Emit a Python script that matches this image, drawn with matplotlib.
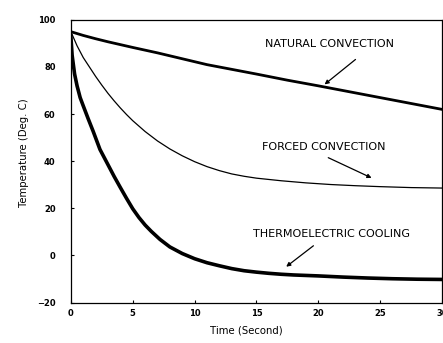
import matplotlib
matplotlib.use("Agg")
import matplotlib.pyplot as plt

# Data
t_nat = [0, 1, 2, 3, 5, 7, 9, 11, 13, 15, 17.5, 20, 22.5, 25, 27.5, 30]
T_nat = [95, 93.4, 92, 90.7, 88.3, 86, 83.5, 81, 79, 77, 74.4, 72, 69.5, 67, 64.5, 62]

t_forced = [0, 0.5, 1, 1.5, 2, 2.5, 3, 3.5, 4, 4.5, 5, 6, 7, 8, 9, 10, 11, 12, 13, 14, 15,
            17, 19, 21, 23, 25, 27.5, 30]
T_forced = [95, 89, 84, 80, 76, 72.3, 68.8, 65.6, 62.6, 59.8, 57.2, 52.6, 48.6, 45.2, 42.3,
            39.8, 37.7, 36, 34.6, 33.6, 32.8, 31.7, 30.8, 30.1, 29.6, 29.2, 28.8, 28.6]

t_te = [0, 0.1, 0.3, 0.5, 0.75, 1, 1.4, 1.8, 2.35, 2.9, 3.5, 4, 4.5, 5, 5.5, 6, 6.5, 7.2, 8,
        9, 10, 11, 12, 13, 14, 15, 16, 17, 18, 20, 22, 24, 26, 28, 30]
T_te = [93, 85, 77, 72, 67, 63.5, 58, 52.7, 45, 39.5, 33.5, 28.8, 24.2, 19.8, 16.1, 12.9, 10.2,
        6.8, 3.6, 0.8, -1.4, -3.1, -4.4, -5.6, -6.5, -7.1, -7.6, -8.0, -8.3, -8.7, -9.2,
        -9.6, -9.9, -10.1, -10.2]

x_ticks = [0, 5, 10, 15, 20, 25, 30]
y_ticks = [-20, 0, 20, 40, 60, 80, 100]

labels = ["NATURAL CONVECTION", "FORCED CONVECTION", "THERMOELECTRIC COOLING"]
text_pos = [(20.9, 89.6), (20.4, 46.0), (21.1, 8.9)]
arrow_tail = [(23.0, 83.2), (20.8, 41.5), (19.6, 4.1)]
arrow_tip = [(20.5, 72.6), (24.3, 32.9), (17.4, -4.8)]

plt.rcParams['font.family'] = ['DejaVu Sans']

fig = plt.figure(figsize=(4.43, 3.43), dpi=100)
ax = fig.add_axes([0.160, 0.118, 0.838, 0.824])

ax.plot(t_nat, T_nat, color='black', lw=2.0, solid_joinstyle='round')
ax.plot(t_forced, T_forced, color='black', lw=0.9, solid_joinstyle='round')
ax.plot(t_te, T_te, color='black', lw=2.6, solid_joinstyle='round')

for lab, tp, tail, tip in zip(labels, text_pos, arrow_tail, arrow_tip):
    ax.text(tp[0], tp[1], lab, ha='center', va='center', fontsize=8.0, color='black')
    ax.annotate('', xy=tip, xytext=tail,
                arrowprops=dict(arrowstyle='-|>', color='black', lw=0.9,
                                mutation_scale=6, shrinkA=0, shrinkB=0))

ax.set_xlim(0, 30)
ax.set_ylim(-20, 100)
ax.set_xticks(x_ticks)
ax.set_yticks(y_ticks)
ax.tick_params(axis='both', direction='in', length=2.5, width=0.8, labelsize=6.0, colors='black')
ax.tick_params(axis='y', pad=11)
ax.tick_params(axis='x', pad=5)
for lbl in ax.get_xticklabels() + ax.get_yticklabels():
    lbl.set_fontweight('bold')
for s in ax.spines.values():
    s.set_linewidth(0.9)

ax.set_xlabel('Time (Second)', fontsize=7.3)
ax.set_ylabel('Temperature (Deg. C)', fontsize=7.3)
ax.xaxis.set_label_coords(0.474, -0.083)
ax.yaxis.set_label_coords(-0.113, 0.53)

fig.savefig('out.png', dpi=100)
